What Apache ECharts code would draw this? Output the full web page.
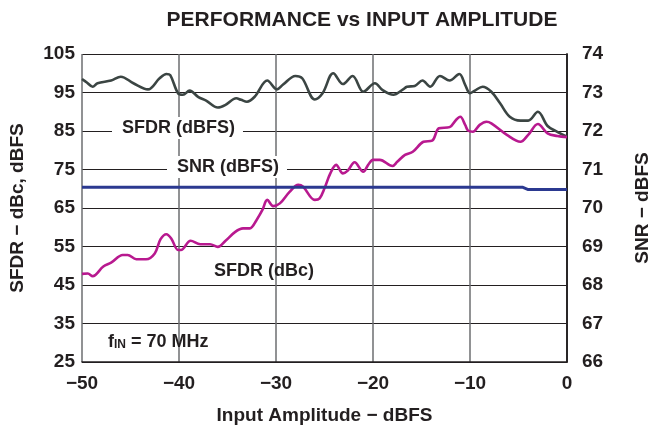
<!DOCTYPE html>
<html><head><meta charset="utf-8">
<script src="https://cdn.jsdelivr.net/npm/echarts@6/dist/echarts.min.js"></script>
<style>html,body{margin:0;padding:0;background:#fff}#c{width:653px;height:431px}</style>
</head><body><div id="c"></div>
<script>
// SFDR (dBFS), left axis
const sfdrFsX = [-50,-49.5,-48.9,-48.4,-47,-46,-44.7,-43.2,-42,-41.3,-40.9,-40.1,-39.6,-38.9,-38,-37.2,-36,-35.2,-34.1,-33.6,-33,-32.2,-30.9,-29.9,-29.3,-28,-27.3,-26,-25.2,-24.1,-23.1,-22.1,-21,-19.8,-19,-17.9,-16.9,-16.5,-15.7,-14.9,-14.1,-13.1,-12.1,-11.1,-10.5,-10,-9.5,-8.7,-7.8,-6.9,-5.9,-4.8,-4,-3,-2,-1,0];
const sfdrFsY = [98.5,97.6,96.5,97.4,98.1,99.1,97.4,95.8,98.7,99.8,99.5,94.8,94.4,95.5,93.8,92.9,91.1,91.8,93.5,93.1,92.6,93.9,98.1,95.8,97.0,99.3,98.7,93.2,94.8,100.0,97.2,99.3,95.2,97.4,95.6,94.4,95.8,96.5,96.7,98.1,96.5,99.3,98.1,99.8,97.0,94.8,95.5,96.5,95.2,92.2,88.7,87.7,87.7,90.0,86.3,84.8,83.5];
// SFDR (dBc), left axis
const sfdrCX = [-50,-49.4,-48.9,-47.8,-47,-45.8,-45.3,-44.4,-43.4,-42.5,-41.9,-41.3,-40.8,-40.1,-39.8,-38.8,-37.8,-36.8,-36,-35.2,-34.2,-33.4,-32.7,-32,-31.4,-30.9,-30.3,-29.6,-28.6,-27.7,-27.2,-26,-25.5,-25,-24.4,-23.8,-23.1,-22.6,-21.9,-21,-20.5,-20,-19.3,-18,-17.5,-16.7,-15.9,-14.8,-13.9,-13.2,-12.1,-11.4,-11,-10.5,-10.2,-9.7,-9,-8.3,-7.8,-6.2,-4.8,-4,-3,-2,-1,0];
const sfdrCY = [47.9,48.0,47.3,49.8,50.8,52.8,52.8,51.7,51.7,53.2,56.9,58.2,57.1,54.1,54.1,56.5,55.6,55.6,54.9,56.5,58.8,59.7,59.7,61.9,64.5,67.1,65.5,66.2,69.2,71.0,70.5,67.1,67.5,70.1,74.0,76.2,74.0,74.7,76.9,74.4,76.2,77.5,77.5,75.9,77.0,78.8,79.6,82.2,82.5,85.7,86.0,88.0,88.7,86.6,85.1,84.8,86.6,87.4,87.0,84.0,82.2,84.0,86.8,84.4,83.7,83.4];
// SNR (dBFS), right axis
const snrX = [-50,-45,-40,-35,-30,-25,-20,-15,-10,-5,-4.6,-4.0,-2,0];
const snrY = [70.54,70.54,70.54,70.54,70.54,70.54,70.54,70.54,70.54,70.54,70.54,70.48,70.48,70.48];

const xTicks = {min:-50, max:0, interval:10};
const leftTicks = {min:25, max:105, interval:10};
const rightTicks = {min:66, max:74, interval:1};

const zip = (a,b) => a.map((v,i)=>[v,b[i]]);
const FONT = '"Liberation Sans", Arial, sans-serif';
const chart = echarts.init(document.getElementById('c'), null, {renderer:'canvas'});
const lbl = {fontFamily:FONT, fontWeight:'bold', fontSize:19, color:'#231f20'};
chart.setOption({
  animation:false,
  backgroundColor:'#fff',
  title:{text:'PERFORMANCE vs INPUT AMPLITUDE', left:357, top:5, textAlign:'center',
    textStyle:{fontFamily:FONT, fontWeight:'bold', fontSize:21, color:'#231f20'}},
  grid:{left:82, right:86, top:54, bottom:69, show:false, containLabel:false, outerBoundsMode:'none'},
  xAxis:{type:'value', min:xTicks.min, max:xTicks.max, interval:xTicks.interval,
    name:'Input Amplitude − dBFS', nameLocation:'middle', nameGap:44,
    nameTextStyle:lbl,
    axisLine:{show:true, onZero:false, lineStyle:{color:'#231f20', width:1.5}},
    axisTick:{show:false},
    axisLabel:{...lbl, margin:12, formatter:v=>String(v).replace('-','−')},
    splitLine:{show:true, lineStyle:{color:'#6d6e70', width:1.5}}},
  yAxis:[
    {type:'value', min:leftTicks.min, max:leftTicks.max, interval:leftTicks.interval,
     name:'SFDR − dBc, dBFS', nameLocation:'middle', nameGap:55, nameRotate:90,
     nameTextStyle:lbl,
     axisLine:{show:true, lineStyle:{color:'#231f20', width:1.5}},
     axisTick:{show:false},
     axisLabel:{...lbl, margin:7},
     splitLine:{show:true, lineStyle:{color:'#231f20', width:1.2}}},
    {type:'value', min:rightTicks.min, max:rightTicks.max, interval:rightTicks.interval,
     name:'SNR − dBFS', nameLocation:'middle', nameGap:66, nameRotate:90,
     nameTextStyle:lbl, position:'right',
     axisLine:{show:true, lineStyle:{color:'#231f20', width:1.5}},
     axisTick:{show:false},
     axisLabel:{...lbl, margin:15},
     splitLine:{show:false}}
  ],
  series:[
    {name:'SFDR (dBFS)', type:'line', yAxisIndex:0, data:zip(sfdrFsX,sfdrFsY), showSymbol:false, smooth:0.35,
     lineStyle:{color:'#3b4543', width:2.6}, z:3},
    {name:'SFDR (dBc)', type:'line', yAxisIndex:0, data:zip(sfdrCX,sfdrCY), showSymbol:false, smooth:0.35,
     lineStyle:{color:'#b8198f', width:2.6}, z:3},
    {name:'SNR (dBFS)', type:'line', yAxisIndex:1, data:zip(snrX,snrY), showSymbol:false,
     lineStyle:{color:'#2b3990', width:3}, z:4}
  ],
  graphic:[
    {type:'text', left:112, top:117, z:10, style:{text:'SFDR (dBFS)', font:'bold 18px '+FONT, fill:'#231f20', backgroundColor:'#fff', padding:[2,8,2,10]}},
    {type:'text', left:167, top:156, z:10, style:{text:'SNR (dBFS)', font:'bold 18px '+FONT, fill:'#231f20', backgroundColor:'#fff', padding:[2,8,2,10]}},
    {type:'text', left:214, top:262, z:10, style:{text:'SFDR (dBc)', font:'bold 18px '+FONT, fill:'#231f20'}},
    {type:'text', left:108, top:333, z:10, style:{
      text:'{a|f}{b|IN}{a| = 70 MHz}',
      rich:{a:{font:'bold 18px '+FONT, fill:'#231f20', verticalAlign:'bottom'},
            b:{font:'bold 12px '+FONT, fill:'#231f20', padding:[8,0,0,0], verticalAlign:'bottom'}}}}
  ]
});
</script></body></html>
